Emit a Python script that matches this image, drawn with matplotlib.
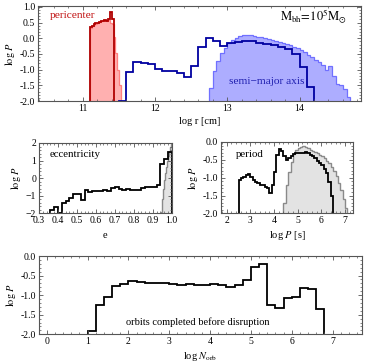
import numpy as np
import matplotlib
matplotlib.use('Agg')
import matplotlib.pyplot as plt
from matplotlib.ticker import MultipleLocator, FormatStrFormatter

plt.rcParams['font.family'] = ['Liberation Serif', 'DejaVu Serif']
plt.rcParams['mathtext.fontset'] = 'stix'
plt.rcParams['font.size'] = 7

# ---- top panel: pericenter / semi-major axis (log r [cm]) ----
peri_fill = [0.33, 0.40, 0.44, 0.47, 0.50, 0.52, 0.54, 0.56, 0.57, 0.55,
             0.58, 0.50, 0.45, 0.05, -0.48, -1.0, -1.5]
peri_line = [0.35, 0.40, 0.45, 0.48, 0.50, 0.52, 0.54, 0.56, 0.58, 0.55,
             0.62, 0.85, 0.60]
semi_fill = [-1.6, -1.05, -0.72, -0.48, -0.3, -0.15, -0.05, 0.02, 0.06, 0.09,
             0.11, 0.10, 0.08, 0.05, 0.03, 0.0, -0.03, -0.06, -0.09, -0.12,
             -0.15, -0.18, -0.22, -0.27, -0.32, -0.38, -0.45, -0.52, -0.6, -0.68,
             -0.76, -0.86, -1.02, -0.88, -1.19, -1.45, -1.5, -1.62, -1.88]
semi_line = [-2.0, -1.07, -0.75, -0.78, -0.83, -0.97, -1.05, -1.05, -1.1, -1.24,
             -0.88, -0.27, 0.0, -0.1, -0.25, -0.16, -0.12, -0.1, -0.1, -0.14,
             -0.18, -0.22, -0.28, -0.35, -0.5, -0.93, -1.56]

# ---- eccentricity ----
ecc_line = [-1.82, -1.65, -2.0, -1.43, -1.28, -1.1, -0.88, -0.87, -1.24, -0.65,
            -0.76, -0.72, -0.7, -0.72, -0.65, -0.75, -0.55, -0.5, -0.6, -0.68,
            -0.62, -0.65, -0.68, -0.68, -0.55, -0.5, -0.5, -0.48, -0.4, 0.8,
            1.1, 1.47]
ecc_fill = [-1.9, -1.2, -0.6, -0.1, 0.3, 0.65, 0.95, 1.25, 1.5, 1.75, 1.95]

# ---- period ----
per_line = [-1.07, -1.0, -0.97, -0.93, -0.9, -0.97, -1.05, -1.12, -1.15, -1.2,
            -1.2, -1.25, -1.3, -1.44, -1.2, -0.84, -0.37, -0.2, -0.25, -0.38,
            -0.5, -0.45, -0.38, -0.33, -0.32, -0.32, -0.3, -0.3, -0.28, -0.32,
            -0.35, -0.4, -0.45, -0.52, -0.58, -0.65, -0.75, -0.88, -1.12, -1.5]
per_fill = [-1.7, -1.2, -0.85, -0.55, -0.33, -0.22, -0.16, -0.13, -0.12, -0.15,
            -0.18, -0.22, -0.25, -0.28, -0.31, -0.35, -0.4, -0.45, -0.52, -0.6,
            -0.7, -0.82, -0.95, -1.15, -1.35, -1.6, -1.85]

# ---- orbits before disruption (bins of 0.2 from log N = 1.0) ----
norb = [-1.92, -1.26, -1.04, -0.77, -0.71, -0.63, -0.67, -0.68, -0.68, -0.7,
        -0.71, -0.73, -0.72, -0.74, -0.74, -0.72, -0.74, -0.79, -0.74, -0.61,
        -0.27, -0.21, -1.25, -1.32, -1.08, -1.05, -0.83, -0.85, -1.35]


def edges(start, width, vals):
    return start + width * np.arange(len(vals) + 1)


fig = plt.figure(figsize=(3.66, 3.64), dpi=100)
ax1 = fig.add_axes([0.1038, 0.7225, 0.8825, 0.261])
ax2 = fig.add_axes([0.1066, 0.4135, 0.3626, 0.1937])
ax3 = fig.add_axes([0.6038, 0.4135, 0.3615, 0.1964])
ax4 = fig.add_axes([0.1066, 0.0816, 0.8825, 0.2151])


def frame(ax, xmaj, xmin, ymaj, ymin):
    ax.xaxis.set_major_locator(MultipleLocator(xmaj))
    ax.xaxis.set_minor_locator(MultipleLocator(xmin))
    ax.yaxis.set_major_locator(MultipleLocator(ymaj))
    ax.yaxis.set_minor_locator(MultipleLocator(ymin))
    ax.tick_params(which='both', direction='in', top=True, right=True,
                   color='#555555', labelsize=7, pad=2)
    ax.tick_params(which='major', length=3, width=0.6)
    ax.tick_params(which='minor', length=1.6, width=0.5)
    for s in ax.spines.values():
        s.set_color('#555555')
        s.set_linewidth(0.8)
    ax.set_ylabel(r'$\log\,P$', fontsize=7.5, labelpad=2)


# top
e = edges(11.10, 0.025, peri_fill)
ax1.stairs(peri_fill, e, baseline=-3, fill=True, color='#ffb0b0', lw=0)
ax1.stairs(peri_fill, e, baseline=-3, color='#ff7f7f', lw=0.9)
ax1.stairs(peri_line, edges(11.10, 0.025, peri_line), baseline=-3,
           color='#b00000', lw=1.3)
e = edges(12.75, 0.05, semi_fill)
ax1.stairs(semi_fill, e, baseline=-3, fill=True, color='#adadff', lw=0)
ax1.stairs(semi_fill, e, baseline=-3, color='#7070ff', lw=0.9)
ax1.stairs(semi_line, edges(11.5, 0.1, semi_line), baseline=-3,
           color='#0000a0', lw=1.3)
ax1.set_xlim(10.38, 14.85)
ax1.set_ylim(-2.0, 1.03)
frame(ax1, 1, 0.2, 0.5, 0.1)
ax1.yaxis.set_major_formatter(FormatStrFormatter('%.1f'))
ax1.set_xlabel('log r [cm]', fontsize=7.5, labelpad=3)
ax1.text(10.55, 0.74, 'pericenter', color='#c01010', fontsize=8.2,
         ha='left', va='center')
ax1.text(13.55, -1.38, 'semi\u2212major axis', color='#2020b0', fontsize=8.2,
         ha='center', va='center')
ax1.text(14.66, 0.7, r'$\mathrm{M_{bh}\!=\!10^5 M_{\odot}}$', fontsize=9,
         ha='right', va='center')

# eccentricity
e = edges(0.945, 0.005, ecc_fill)
ax2.stairs(ecc_fill, e, baseline=-3, fill=True, color='#e3e3e3', lw=0)
ax2.stairs(ecc_fill, e, baseline=-3, color='#8a8a8a', lw=1.0)
ax2.stairs(ecc_line, edges(0.36, 0.02, ecc_line), baseline=-3,
           color='black', lw=1.3)
ax2.set_xlim(0.3, 1.0)
ax2.set_ylim(-2, 2)
frame(ax2, 0.1, 0.02, 1, 0.2)
ax2.xaxis.set_major_formatter(FormatStrFormatter('%.1f'))
ax2.set_xlabel('e', fontsize=7.5, labelpad=4)
ax2.text(0.083, 0.84, 'eccentricity', transform=ax2.transAxes, fontsize=7.8,
         ha='left', va='center')

# period
e = edges(4.4, 0.1, per_fill)
ax3.stairs(per_fill, e, baseline=-3, fill=True, color='#e3e3e3', lw=0)
ax3.stairs(per_fill, e, baseline=-3, color='#8a8a8a', lw=1.0)
ax3.stairs(per_line, edges(2.5, 0.1, per_line), baseline=-3,
           color='black', lw=1.3)
ax3.set_xlim(1.76, 7.35)
ax3.set_ylim(-2, 0)
frame(ax3, 1, 0.2, 0.5, 0.1)
ax3.yaxis.set_major_formatter(FormatStrFormatter('%.1f'))
ax3.set_xlabel(r'log $P$ [s]', fontsize=7.5, labelpad=3)
ax3.text(0.113, 0.82, 'period', transform=ax3.transAxes, fontsize=7.8,
         ha='left', va='center')

# orbits
ax4.stairs(norb, edges(1.0, 0.2, norb), baseline=-3, color='black', lw=1.3)
ax4.set_xlim(-0.19, 7.72)
ax4.set_ylim(-2, 0)
frame(ax4, 1, 0.2, 0.5, 0.1)
ax4.yaxis.set_major_formatter(FormatStrFormatter('%.1f'))
ax4.set_xlabel(r'log $N_{\rm orb}$', fontsize=7.5, labelpad=3)
ax4.text(0.49, 0.157, 'orbits completed before disruption',
         transform=ax4.transAxes, fontsize=7.5, ha='center', va='center')

fig.savefig('out.png', dpi=100)
